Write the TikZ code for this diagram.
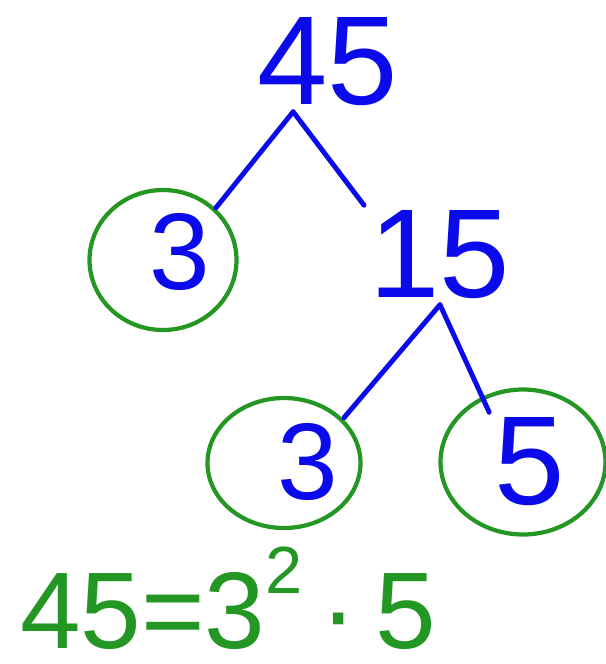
\documentclass[tikz,border=0pt]{standalone}
\usepackage{fontspec}
\setmainfont{Liberation Sans}
\usetikzlibrary{shapes.geometric}

\begin{document}
\begin{tikzpicture}[x=0.02cm,y=-0.02cm,line cap=round,line join=round]
	\definecolor{pen}{RGB}{10,10,235}
	\definecolor{leaf}{RGB}{35,150,35}
	\tikzstyle{num}=[text=pen,inner sep=3pt,font=\fontsize{72}{72}\selectfont];
	\tikzstyle{small}=[num,font=\fontsize{62}{62}\selectfont];
	\tikzstyle{ring}=[ellipse,draw=leaf,line width=2.4pt];
	\tikzstyle{branch}=[draw=pen,line width=2.8pt];
	\useasboundingbox (0,0) rectangle (606,664);
	%% numbers
	\node[num]   (top)     at (328,62)  {45};
	\node[small] (three)   at (180,252) {3};
	\node[num]   (fifteen) at (440,255) {15};
	\node[small] (threeb)  at (308,462) {3};
	\node[num]   (fiveb)   at (530,462) {5};
	%% primes
	\node[ring,minimum width=2.94cm,minimum height=2.8cm] (ringa) at (163,260) {};
	\node[ring,minimum width=3.06cm,minimum height=2.6cm] (ringb) at (284,463) {};
	\node[ring,minimum width=3.3cm,minimum height=2.9cm]  (ringc) at (523,462) {};
	%% branches
	\draw[branch] (top.235)      -- (three.north east);
	\draw[branch] (top.235)      -- (fifteen.north west);
	\draw[branch] (fifteen.south) -- (threeb.north east);
	\draw[branch] (fifteen.south) -- (fiveb.north west);
	%% result
	\node[num,text=leaf,inner sep=0pt,font=\fontsize{62}{62}\selectfont] (result) at (228,598)
		{45=3\raisebox{0.5em}{\fontsize{38}{38}\selectfont 2}\,·\,5};
\end{tikzpicture}
\end{document}
